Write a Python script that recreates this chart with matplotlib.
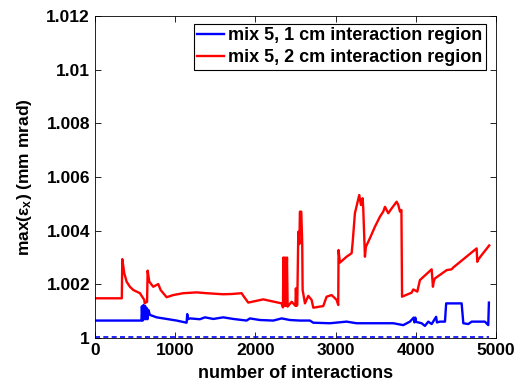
import matplotlib.pyplot as plt

plt.rcParams['font.family'] = 'Liberation Sans'
plt.rcParams['font.weight'] = 'bold'
plt.rcParams['mathtext.fontset'] = 'custom'
plt.rcParams['mathtext.rm'] = 'Liberation Sans'
plt.rcParams['mathtext.it'] = 'Liberation Sans'
plt.rcParams['mathtext.bf'] = 'Liberation Sans:bold'

# red: 2 cm interaction region
red_x = [0, 335, 341, 366, 395, 436, 478, 561, 615, 620, 650, 657, 678, 727, 790, 819,
         894, 976, 1101, 1268, 1393, 1600, 1704, 1829, 1858, 1912, 2099, 2328, 2345,
         2350, 2360, 2370, 2380, 2395, 2403, 2453, 2500, 2506, 2515, 2523, 2536, 2550,
         2556, 2573, 2585, 2590, 2619, 2660, 2702, 2723, 2847, 2889, 2952, 3014, 3034,
         3038, 3055, 3138, 3201, 3213, 3242, 3296, 3317, 3338, 3346, 3367, 3379, 3429,
         3492, 3554, 3595, 3617, 3658, 3700, 3762, 3783, 3804, 3822, 3830, 3949, 3970,
         4020, 4053, 4199, 4215, 4225, 4240, 4386, 4448, 4469, 4760, 4768, 4775, 4822,
         4917]
red_y = [1.00148, 1.00148, 1.00294, 1.00241, 1.0021, 1.00191, 1.00179, 1.00167,
         1.00142, 1.0013, 1.00135, 1.00251, 1.0021, 1.00191, 1.00201, 1.00179,
         1.00152, 1.0016, 1.00167, 1.0017, 1.00167, 1.00163, 1.00164, 1.00167,
         1.00154, 1.00132, 1.00144, 1.00129, 1.00114, 1.003, 1.0012, 1.003, 1.0012,
         1.003, 1.00117, 1.00135, 1.0012, 1.00185, 1.0012, 1.00123, 1.00396, 1.0035,
         1.00471, 1.00471, 1.0035, 1.00179, 1.00129, 1.00157, 1.00142, 1.00113,
         1.00119, 1.00154, 1.0016, 1.00142, 1.00123, 1.00328, 1.00281, 1.00303,
         1.00316, 1.00353, 1.00465, 1.00533, 1.00496, 1.00521, 1.00483, 1.00303,
         1.0034, 1.00372, 1.00415, 1.00452, 1.00471, 1.00489, 1.00465, 1.00483,
         1.00508, 1.00496, 1.00471, 1.00477, 1.00154, 1.00169, 1.00181, 1.00173,
         1.00216, 1.00256, 1.00191, 1.0021, 1.00222, 1.00253, 1.00256, 1.00263,
         1.00334, 1.00284, 1.0029, 1.00309, 1.00345]

# blue: 1 cm interaction region
blue_x = [0, 580, 585, 595, 605, 615, 625, 635, 645, 655, 665, 686, 769, 894, 1019,
          1143, 1151, 1160, 1185, 1309, 1372, 1476, 1600, 1725, 1891, 1933, 2058, 2224,
          2328, 2432, 2556, 2681, 2723, 2930, 3138, 3263, 3471, 3720, 3845, 3928, 3975,
          3985, 3995, 4005, 4074, 4115, 4157, 4199, 4255, 4265, 4303, 4365, 4380, 4573,
          4594, 4656, 4698, 4863, 4905, 4913]
blue_y = [1.00065, 1.00065, 1.00118, 1.00065, 1.00123, 1.0007, 1.0012, 1.0007, 1.00112,
          1.0007, 1.00105, 1.00086, 1.00077, 1.00071, 1.00065, 1.00057, 1.00089,
          1.0007, 1.00073, 1.0007, 1.00077, 1.00071, 1.00077, 1.00071, 1.00065,
          1.00073, 1.00067, 1.00065, 1.00073, 1.00067, 1.00065, 1.00065, 1.00057,
          1.00055, 1.00061, 1.00055, 1.00055, 1.00055, 1.00048, 1.00061, 1.00076,
          1.00058, 1.00076, 1.0006, 1.00055, 1.00045, 1.00061, 1.00052, 1.00079,
          1.00058, 1.00061, 1.00061, 1.00129, 1.00129, 1.00055, 1.00052, 1.00061,
          1.00061, 1.00048, 1.00132]

# dashed reference line
ref_x = [0, 4913]
ref_y = [1.00005, 1.00005]

fig = plt.figure(figsize=(5.16, 3.83), dpi=100)
ax = fig.add_axes([0.184, 0.1175, 0.777, 0.8405])

ax.plot(blue_x, blue_y, color='#0000ff', lw=1.7, label='mix 5, 1 cm interaction region')
ax.plot(red_x, red_y, color='#ff0000', lw=1.7, label='mix 5, 2 cm interaction region')
ax.plot(ref_x, ref_y, color='#0000ff', lw=1.2, ls=(0, (3, 2)))

ax.set_xlim(0, 5000)
ax.set_ylim(1, 1.012)
ax.set_xticks([0, 1000, 2000, 3000, 4000, 5000])
ax.set_yticks([1, 1.002, 1.004, 1.006, 1.008, 1.01, 1.012])
ax.set_yticklabels(['1', '1.002', '1.004', '1.006', '1.008', '1.01', '1.012'])
ax.tick_params(direction='in', top=True, right=True, labelsize=12.5, length=4, width=0.6)
for s in ax.spines.values():
    s.set_linewidth(0.6)

ax.set_xlabel('number of interactions', fontsize=13, fontweight='bold', labelpad=5)
ax.set_ylabel(r'max($\varepsilon_{\mathbf{x}}$) (mm mrad)', fontsize=12.5,
              fontweight='bold', labelpad=9)

leg = ax.legend(loc='upper right', bbox_to_anchor=(0.975, 0.976), borderaxespad=0,
                fontsize=13, fancybox=False, framealpha=1, edgecolor='black',
                handlelength=1.5, handletextpad=0.2, borderpad=0.2, labelspacing=0.28)
leg.get_frame().set_linewidth(0.8)

fig.savefig('out.png', dpi=100)
